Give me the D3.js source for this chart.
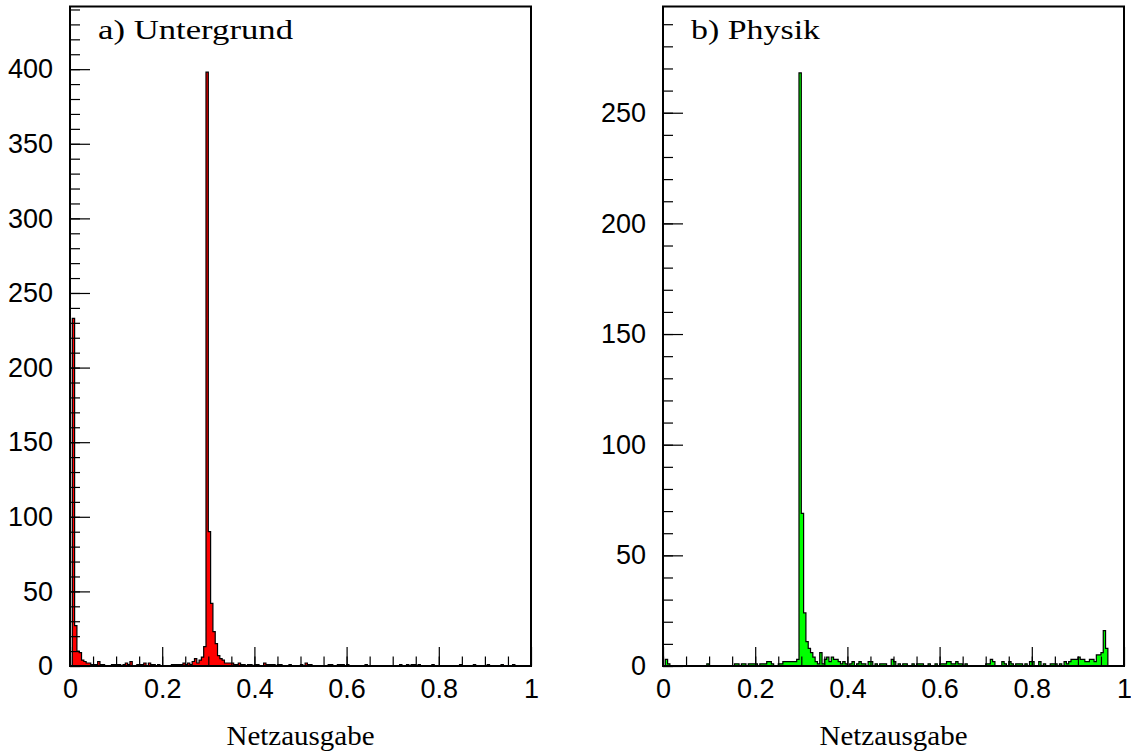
<!DOCTYPE html>
<html>
<head>
<meta charset="utf-8">
<script src="https://cdn.jsdelivr.net/npm/d3@7"></script>
<style>
  body { margin: 0; background: #fff; }
  svg { display: block; }
</style>
</head>
<body>
<div id="chart"></div>
<script>
// histogram binning: 200 bins between 0 and 1
var nBins = 200, xMin = 0, xMax = 1;

// a) Untergrund - counts per bin
var untergrund = [
  0,233,27,10,9,4,3,2,2,1, 1,1,3,1,1,0,0,0,1,1,
  1,1,0,1,2,1,3,0,0,1, 1,1,2,0,2,1,1,0,1,0,
  0,0,0,0,1,1,1,1,1,2, 1,2,1,3,5,2,4,6,13,398,
  90,42,23,15,7,5,4,2,2,2, 2,1,1,2,1,1,0,1,1,0,
  1,1,0,0,2,1,1,1,1,0, 1,1,0,0,0,1,0,0,0,0,
  1,0,2,1,1,0,0,0,0,0, 0,0,1,1,0,0,1,1,1,0,
  1,0,0,0,0,0,0,0,1,0, 0,0,0,0,0,0,0,0,0,0,
  0,0,0,1,0,0,1,0,1,1, 0,1,0,0,0,0,0,1,0,0,
  0,0,0,0,0,0,0,0,0,1, 0,0,0,0,0,1,0,0,0,0,
  0,1,0,0,0,0,0,1,0,0, 0,0,1,0,0,0,0,0,0,0
];

// b) Physik - counts per bin
var physik = [
  0,3,1,0,0,0,0,0,0,0, 0,0,0,0,0,0,0,0,0,1,
  0,0,0,0,0,0,0,0,0,0, 0,1,1,0,1,1,0,1,1,1,
  1,0,1,1,1,2,2,1,0,0, 1,1,2,2,2,2,2,2,3,268,
  69,24,11,8,6,4,2,1,6,1, 3,4,2,4,3,3,2,1,2,1,
  0,1,2,0,1,2,1,1,0,2, 2,0,1,0,1,1,1,0,0,3,
  2,0,1,0,1,1,0,0,1,0, 1,1,1,0,0,1,0,0,1,0,
  1,1,1,2,2,1,1,2,1,1, 0,1,0,0,0,0,0,0,0,0,
  1,1,3,2,0,0,0,2,1,0, 2,1,0,1,1,1,0,1,0,2,
  2,0,0,2,0,1,0,0,1,1, 1,0,1,0,2,1,2,3,3,3,
  4,3,3,2,2,3,3,2,5,5, 6,16,8,0,0,0,0,0,0,0
];

var xTickLabels = [0, 0.2, 0.4, 0.6, 0.8, 1];
var yTicksA = [0, 50, 100, 150, 200, 250, 300, 350, 400];
var yTicksB = [0, 50, 100, 150, 200, 250];

var svg = d3.select("#chart")
  .append("svg")
    .attr("width", 1131)
    .attr("height", 756);

var plotTop = 6.5, plotBottom = 666;

var panels = [
  {counts: untergrund, fill: "#ff0000", title: "a) Untergrund", titleW: 195,
   left: 70, right: 531, ymax: 442, yTicks: yTicksA},
  {counts: physik, fill: "#00ff00", title: "b) Physik", titleW: 129,
   left: 663, right: 1124, ymax: 298, yTicks: yTicksB}
];

panels.forEach(function(p) {
  var x = d3.scaleLinear().domain([xMin, xMax]).range([p.left, p.right]);
  var y = d3.scaleLinear().domain([0, p.ymax]).range([plotBottom, plotTop]);
  var bw = (xMax - xMin) / nBins;

  // step points, one per bin plus closing edge
  var pts = p.counts.map(function(c, i) { return {x: xMin + i * bw, c: c}; });
  pts.push({x: xMax, c: p.counts[nBins - 1]});

  var area = d3.area()
    .curve(d3.curveStepAfter)
    .x(function(d) { return x(d.x); })
    .y0(y(0))
    .y1(function(d) { return y(d.c); });

  var line = d3.line()
    .curve(d3.curveStepAfter)
    .x(function(d) { return x(d.x); })
    .y(function(d) { return y(d.c); });

  svg.append("path")
    .datum(pts)
    .attr("d", area)
    .attr("fill", p.fill);

  svg.append("path")
    .datum(pts)
    .attr("d", line)
    .attr("fill", "none")
    .attr("stroke", "#000")
    .attr("stroke-width", 1.2);

  // minor y ticks
  svg.append("g")
    .attr("transform", "translate(" + p.left + ",0)")
    .call(d3.axisLeft(y).tickValues(d3.range(0, p.ymax, 10)).tickSize(-10).tickSizeOuter(0).tickFormat(""))
    .call(function(g) { g.select(".domain").remove(); });

  // major y ticks
  svg.append("g")
    .attr("class", "yaxis")
    .attr("transform", "translate(" + p.left + ",0)")
    .call(d3.axisLeft(y).tickValues(p.yTicks).tickSize(-20).tickSizeOuter(0).tickPadding(17))
    .call(function(g) { g.select(".domain").remove(); });

  // minor x ticks
  svg.append("g")
    .attr("transform", "translate(0," + plotBottom + ")")
    .call(d3.axisBottom(x).tickValues(d3.range(0, 20).map(function(k) { return k * 0.05; })).tickSize(-9.5).tickSizeOuter(0).tickFormat(""))
    .call(function(g) { g.select(".domain").remove(); });

  // major x ticks
  svg.append("g")
    .attr("class", "xaxis")
    .attr("transform", "translate(0," + plotBottom + ")")
    .call(d3.axisBottom(x).tickValues(xTickLabels).tickSize(-19).tickSizeOuter(0).tickPadding(13).tickFormat(d3.format("~g")))
    .call(function(g) { g.select(".domain").remove(); });

  svg.selectAll(".tick line").attr("stroke", "#000").attr("stroke-width", 1.2);
  svg.selectAll(".yaxis text, .xaxis text")
    .style("font-family", "'Liberation Sans', Arial, sans-serif")
    .style("font-size", "27px")
    .attr("fill", "#000");

  // frame
  svg.append("rect")
    .attr("x", p.left)
    .attr("y", plotTop)
    .attr("width", p.right - p.left)
    .attr("height", plotBottom - plotTop)
    .attr("fill", "none")
    .attr("stroke", "#000")
    .attr("stroke-width", 2);

  // panel title
  svg.append("text")
    .attr("x", p.left + 28)
    .attr("y", 39)
    .attr("textLength", p.titleW)
    .attr("lengthAdjust", "spacingAndGlyphs")
    .style("font-family", "'Liberation Serif', 'Times New Roman', serif")
    .style("font-size", "28px")
    .text(p.title);

  // x axis label
  svg.append("text")
    .attr("x", (p.left + p.right) / 2)
    .attr("y", 745)
    .attr("text-anchor", "middle")
    .attr("textLength", 148)
    .attr("lengthAdjust", "spacingAndGlyphs")
    .style("font-family", "'Liberation Serif', 'Times New Roman', serif")
    .style("font-size", "28px")
    .text("Netzausgabe");
});
</script>
</body>
</html>
